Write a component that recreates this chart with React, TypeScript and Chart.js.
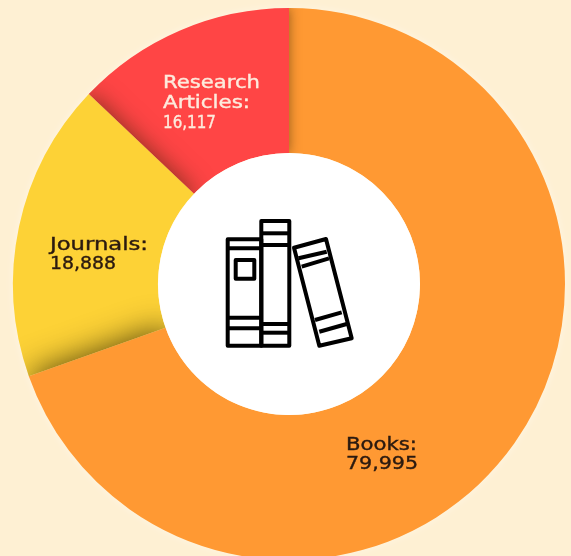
import React, { useEffect, useRef } from "react";
import { Chart, registerables } from "chart.js";

Chart.register(...registerables);

const categories = ["Books", "Journals", "Research Articles"];
// Figures as printed on the slices.
const printedValues = [79995, 18888, 16117];
// Slice sizes in degrees as measured on the picture. The reference's slices are
// not exactly proportional to its printed figures, so these are kept separate.
const measuredSliceDegrees = [250.5, 63, 46.5];
const sliceColors = ["#FF9933", "#FDD236", "#FF4545"];
const labelLines = [
  ["Books:", printedValues[0].toLocaleString("en-US")],
  ["Journals:", printedValues[1].toLocaleString("en-US")],
  ["Research", "Articles:", printedValues[2].toLocaleString("en-US")],
];
const labelWidths = [
  [71, 72],
  [98, 66],
  [97, 87, 53],
];
const labelColors = ["#2B1A10", "#2B1A10", "#FDEBDD"];
const labelAnchors = [
  { x: 346, y: 450, step: 19 },
  { x: 50, y: 250, step: 19 },
  { x: 163, y: 88, step: 20 },
];
const BG = "#FEF0D3";

const sector = (ctx: CanvasRenderingContext2D, a: any) => {
  ctx.beginPath();
  ctx.arc(a.x, a.y, a.outerRadius, a.startAngle, a.endAngle);
  ctx.arc(a.x, a.y, a.innerRadius, a.endAngle, a.startAngle, true);
  ctx.closePath();
};

const decorPlugin = {
  id: "decor",
  beforeDatasetsDraw(chart: any) {
    const ctx = chart.ctx as CanvasRenderingContext2D;
    const a = chart.getDatasetMeta(0).data[0];
    ctx.save();
    ctx.shadowColor = "rgba(255,255,255,0.4)";
    ctx.shadowBlur = 8;
    ctx.fillStyle = BG;
    ctx.beginPath();
    ctx.arc(a.x, a.y, a.outerRadius, 0, Math.PI * 2);
    ctx.fill();
    ctx.restore();
  },
  afterDatasetsDraw(chart: any) {
    const ctx = chart.ctx as CanvasRenderingContext2D;
    const arcs = chart.getDatasetMeta(0).data;
    // Each slice casts a shadow on its neighbour: [caster, receiver, blur, alpha]
    const overlaps: [number, number, number, number][] = [
      [0, 1, 32, 0.8],
      [1, 2, 24, 0.6],
      [2, 0, 12, 0.5],
    ];
    overlaps.forEach(([caster, receiver, blur, alpha]) => {
      ctx.save();
      sector(ctx, arcs[receiver]);
      ctx.clip();
      ctx.shadowColor = `rgba(40,30,0,${alpha})`;
      ctx.shadowBlur = blur;
      ctx.fillStyle = sliceColors[caster];
      sector(ctx, arcs[caster]);
      ctx.fill();
      ctx.restore();
    });

    // white hub
    const a = arcs[0];
    ctx.save();
    ctx.fillStyle = "#FFFFFF";
    ctx.beginPath();
    ctx.arc(a.x, a.y, a.innerRadius, 0, Math.PI * 2);
    ctx.fill();

    // books icon
    ctx.strokeStyle = "#000000";
    ctx.lineWidth = 4;
    ctx.lineJoin = "round";
    ctx.lineCap = "butt";
    const seg = (pts: number[][], close = false) => {
      ctx.beginPath();
      pts.forEach(([x, y], i) => (i ? ctx.lineTo(x, y) : ctx.moveTo(x, y)));
      if (close) ctx.closePath();
      ctx.stroke();
    };
    seg([[227.7, 239.3], [261.3, 239.3], [261.3, 345.7], [227.7, 345.7]], true);
    seg([[227.7, 248.3], [261.3, 248.3]]);
    seg([[227.7, 317.7], [261.3, 317.7]]);
    seg([[227.7, 328.3], [261.3, 328.3]]);
    seg([[235.7, 260], [254.3, 260], [254.3, 278.7], [235.7, 278.7]], true);
    seg([[261.3, 221], [289.3, 221], [289.3, 345.7], [261.3, 345.7]], true);
    seg([[261.3, 233.3], [289.3, 233.3]]);
    seg([[261.3, 245], [289.3, 245]]);
    seg([[261.3, 324], [289.3, 324]]);
    seg([[261.3, 332.7], [289.3, 332.7]]);
    seg([[294, 247.7], [326, 239], [351.7, 338.3], [319.3, 345.7]], true);
    seg([[298.5, 258.3], [326.7, 251.7]]);
    seg([[301.7, 266.7], [329, 258.3]]);
    seg([[315, 320], [341.7, 312.3]]);
    seg([[319.3, 331.7], [346.7, 324]]);
    ctx.restore();

    // labels, widened to the reference's extended typeface
    labelLines.forEach((lines, i) => {
      const p = labelAnchors[i];
      ctx.save();
      ctx.font = "500 18px 'DejaVu Sans'";
      ctx.fillStyle = labelColors[i];
      ctx.strokeStyle = labelColors[i];
      ctx.lineWidth = 0.4;
      ctx.textBaseline = "alphabetic";
      lines.forEach((line, j) => {
        const sx = labelWidths[i][j] / ctx.measureText(line).width;
        ctx.save();
        ctx.translate(p.x, p.y + j * p.step);
        ctx.scale(sx, 1);
        ctx.fillText(line, 0, 0);
        ctx.strokeText(line, 0, 0);
        ctx.restore();
      });
      ctx.restore();
    });
  },
};

export default function App() {
  const ref = useRef<HTMLCanvasElement>(null);
  useEffect(() => {
    const chart = new Chart(ref.current!, {
      type: "doughnut",
      data: {
        labels: categories,
        datasets: [
          {
            data: measuredSliceDegrees,
            backgroundColor: sliceColors,
            borderWidth: 0,
          },
        ],
      },
      options: {
        responsive: false,
        animation: false,
        cutout: "47.46%",
        layout: { padding: { left: 7, top: 8, right: 0, bottom: 0 } },
        plugins: { legend: { display: false }, tooltip: { enabled: false } },
      },
      plugins: [decorPlugin],
    } as any);
    return () => chart.destroy();
  }, []);
  return (
    <div
      style={{
        position: "fixed",
        left: 0,
        top: 0,
        width: 571,
        height: 556,
        overflow: "hidden",
        background: BG,
      }}
    >
      <canvas ref={ref} width={571} height={560} style={{ display: "block", width: 571, height: 560 }} />
    </div>
  );
}
